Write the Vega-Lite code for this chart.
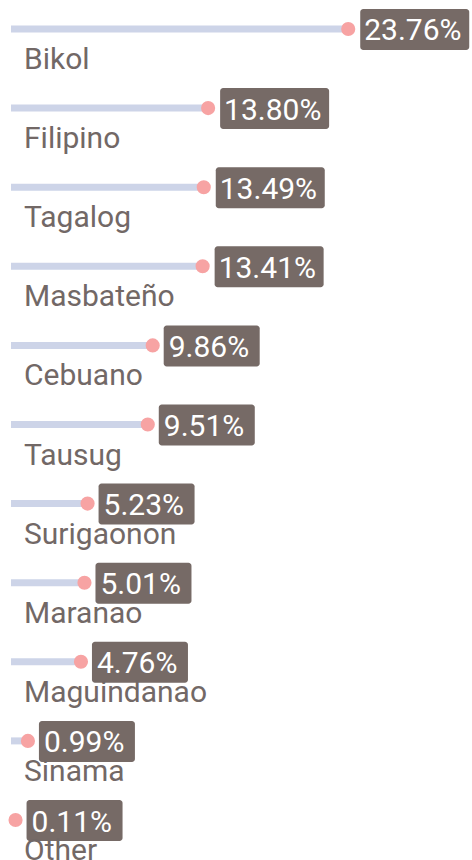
{
  "$schema": "https://vega.github.io/schema/vega-lite/v6.json",
  "autosize": {"type": "none"},
  "padding": {"left": 14, "top": 0, "right": 36, "bottom": 11},
  "width": 422,
  "height": 849,
  "background": "#ffffff",
  "config": {"view": {"stroke": null}},
  "data": {"values": [
    {"language": "Bikol", "share": 0.2376},
    {"language": "Filipino", "share": 0.1380},
    {"language": "Tagalog", "share": 0.1349},
    {"language": "Masbateño", "share": 0.1341},
    {"language": "Cebuano", "share": 0.0986},
    {"language": "Tausug", "share": 0.0951},
    {"language": "Surigaonon", "share": 0.0523},
    {"language": "Maranao", "share": 0.0501},
    {"language": "Maguindanao", "share": 0.0476},
    {"language": "Sinama", "share": 0.0099},
    {"language": "Other", "share": 0.0011}
  ]},
  "encoding": {
    "y": {"field": "language", "type": "nominal", "sort": null,
      "scale": {"type": "point", "padding": 0.3666}, "axis": null}
  },
  "layer": [
    {
      "mark": {"type": "rule", "stroke": "#cdd4e8", "strokeWidth": 7, "strokeCap": "butt", "x2Offset": -3},
      "encoding": {
        "x": {"field": "share", "type": "quantitative", "scale": {"domain": [0, 0.30], "nice": false, "zero": true}, "axis": null},
        "x2": {"datum": 0}
      }
    },
    {
      "mark": {"type": "circle", "size": 200, "fill": "#f7a3a3", "opacity": 1},
      "encoding": {"x": {"field": "share", "type": "quantitative"}}
    },
    {
      "transform": [{"filter": "datum.share >= 0.1"}],
      "mark": {"type": "rect", "fill": "#766a66", "cornerRadius": 3, "xOffset": 12, "x2Offset": 121, "yOffset": -20, "y2Offset": 21},
      "encoding": {
        "x": {"field": "share", "type": "quantitative"},
        "x2": {"field": "share"},
        "y2": {"field": "language"}
      }
    },
    {
      "transform": [{"filter": "datum.share < 0.1"}],
      "mark": {"type": "rect", "fill": "#766a66", "cornerRadius": 3, "xOffset": 11, "x2Offset": 107, "yOffset": -20, "y2Offset": 21},
      "encoding": {
        "x": {"field": "share", "type": "quantitative"},
        "x2": {"field": "share"},
        "y2": {"field": "language"}
      }
    },
    {
      "mark": {"type": "text", "align": "left", "baseline": "alphabetic", "dx": 16, "dy": 11.5, "font": "Roboto", "fontSize": 30, "fill": "#ffffff"},
      "encoding": {
        "x": {"field": "share", "type": "quantitative"},
        "text": {"field": "share", "type": "quantitative", "format": ".2%"}
      }
    },
    {
      "mark": {"type": "text", "align": "left", "baseline": "alphabetic", "dx": 10, "dy": 40, "font": "Roboto", "fontSize": 30, "fill": "#726866"},
      "encoding": {
        "x": {"datum": 0},
        "text": {"field": "language", "type": "nominal"}
      }
    }
  ]
}
